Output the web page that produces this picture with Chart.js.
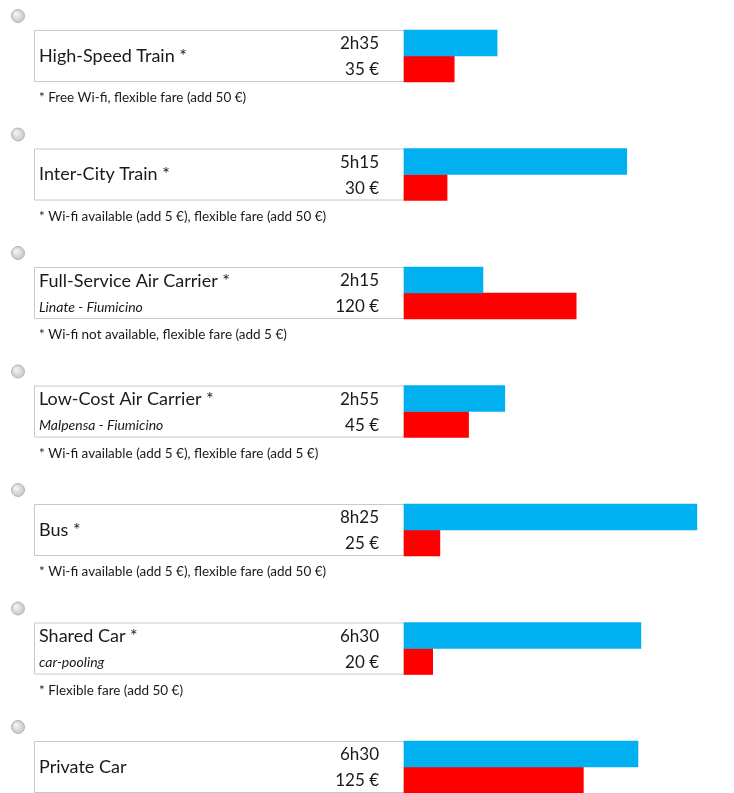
<!DOCTYPE html>
<html>
<head>
<meta charset="utf-8">
<script src="https://cdn.jsdelivr.net/npm/chart.js@4/dist/chart.umd.min.js"></script>
<style>
html,body{margin:0;padding:0;background:#fff;overflow:hidden;}
canvas{display:block;}
</style>
</head>
<body>
<canvas id="c" width="734" height="793"></canvas>
<script>
const categories = ['High-Speed Train *', 'Inter-City Train *', 'Full-Service Air Carrier *', 'Low-Cost Air Carrier *', 'Bus *', 'Shared Car *', 'Private Car'];
const subtitles = ['', '', 'Linate - Fiumicino', 'Malpensa - Fiumicino', '', 'car-pooling', ''];
const durationLabels = ['2h35', '5h15', '2h15', '2h55', '8h25', '6h30', '6h30'];
const durationBars = [158, 378, 134, 171, 497, 402, 397];
const prices = [35, 30, 120, 45, 25, 20, 125];
const priceLabels = ['35 €', '30 €', '120 €', '45 €', '25 €', '20 €', '125 €'];
const footnotes = [
  '* Free Wi-fi, flexible fare (add 50 €)',
  '* Wi-fi available (add 5 €), flexible fare (add 50 €)',
  '* Wi-fi not available, flexible fare (add 5 €)',
  '* Wi-fi available (add 5 €), flexible fare (add 5 €)',
  '* Wi-fi available (add 5 €), flexible fare (add 50 €)',
  '* Flexible fare (add 50 €)',
  ''
];

const FONT = 'Lato, "Open Sans", sans-serif';
const HALF = 26;

const panelPlugin = {
  id: 'panels',
  beforeDatasetsDraw(chart) {
    const ctx = chart.ctx;
    const y = chart.scales.y;
    const left = 34, right = chart.chartArea.left;
    ctx.save();
    categories.forEach((cat, i) => {
      const c = y.getPixelForValue(i);
      // box
      ctx.fillStyle = '#ffffff';
      ctx.fillRect(left, c - HALF, right - left, HALF * 2);
      ctx.strokeStyle = '#c8c8c8';
      ctx.lineWidth = 1;
      ctx.beginPath();
      ctx.moveTo(right, c - HALF + 0.5);
      ctx.lineTo(left + 0.5, c - HALF + 0.5);
      ctx.lineTo(left + 0.5, c + HALF - 0.5);
      ctx.lineTo(right, c + HALF - 0.5);
      ctx.stroke();
      // radio button
      const rx = 18, ry = c - 40;
      const g = ctx.createRadialGradient(rx - 2, ry - 2, 1, rx, ry, 7);
      g.addColorStop(0, '#f2f2f2');
      g.addColorStop(1, '#c4c4c4');
      ctx.fillStyle = g;
      ctx.beginPath();
      ctx.arc(rx, ry, 6.5, 0, Math.PI * 2);
      ctx.fill();
      ctx.strokeStyle = '#b5b5b5';
      ctx.stroke();
      // texts
      ctx.fillStyle = '#1a1a1a';
      ctx.textBaseline = 'middle';
      ctx.textAlign = 'left';
      ctx.font = '18px ' + FONT;
      if (subtitles[i]) {
        ctx.fillText(cat, 39, c - 12);
        ctx.font = 'italic 14px ' + FONT;
        ctx.fillText(subtitles[i], 39, c + 14);
      } else {
        ctx.fillText(cat, 39, c);
      }
      ctx.textAlign = 'right';
      ctx.font = '17px ' + FONT;
      ctx.fillText(durationLabels[i], 379, c - 12);
      ctx.fillText(priceLabels[i], 379, c + 14);
      if (footnotes[i]) {
        ctx.textAlign = 'left';
        ctx.font = '13.5px ' + FONT;
        ctx.fillText(footnotes[i], 39, c + 42);
      }
    });
    ctx.restore();
  }
};

new Chart(document.getElementById('c'), {
  type: 'bar',
  data: {
    labels: categories,
    datasets: [
      { label: 'Duration', data: durationBars, xAxisID: 'x', backgroundColor: '#00b0f0', borderWidth: 0, barThickness: HALF, clip: false },
      { label: 'Price', data: prices, xAxisID: 'x2', backgroundColor: '#ff0000', borderWidth: 0, barThickness: HALF, clip: false }
    ]
  },
  options: {
    indexAxis: 'y',
    responsive: false,
    animation: false,
    layout: { padding: { left: 404, right: 0, top: 56, bottom: 26 } },
    plugins: { legend: { display: false }, tooltip: { enabled: false } },
    scales: {
      x: { display: false, min: 0, max: 560 },
      x2: { display: false, min: 0, max: 230 },
      y: { display: false, offset: false }
    }
  },
  plugins: [panelPlugin]
});
</script>
</body>
</html>
